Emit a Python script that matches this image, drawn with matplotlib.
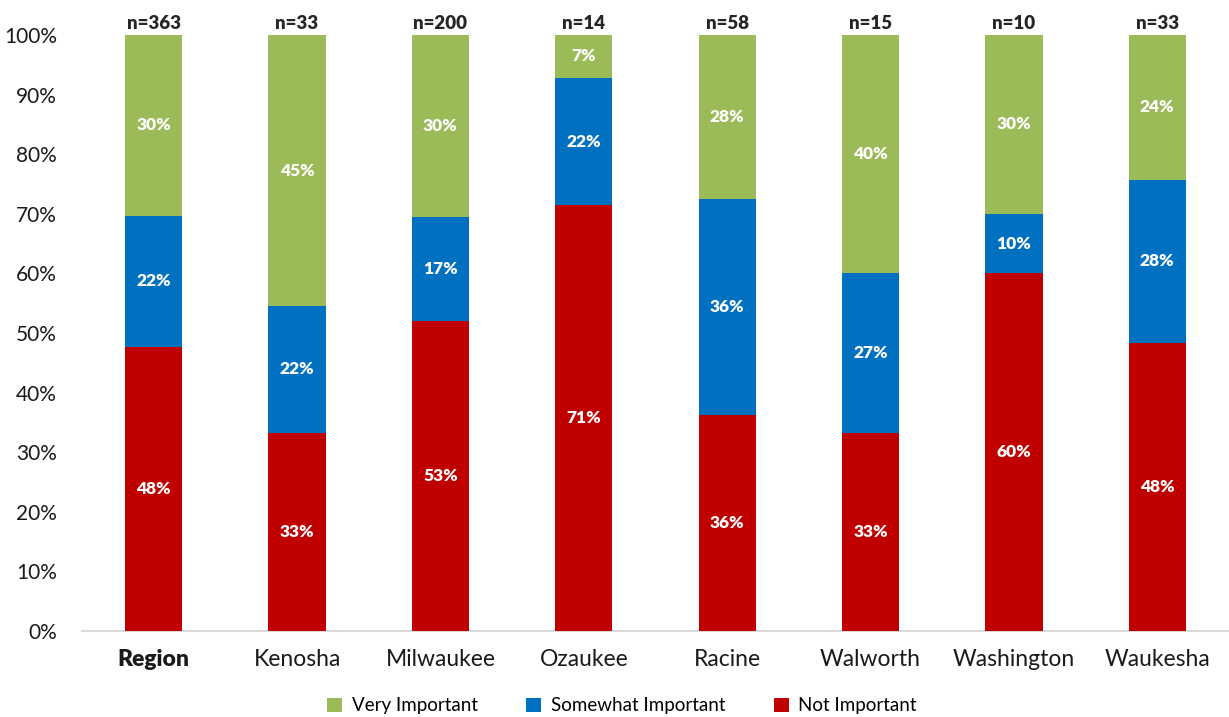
import matplotlib
matplotlib.use("Agg")
import matplotlib.pyplot as plt
import numpy as np

categories = ["Region", "Kenosha", "Milwaukee", "Ozaukee", "Racine", "Walworth", "Washington", "Waukesha"]
n_labels = ["n=363", "n=33", "n=200", "n=14", "n=58", "n=15", "n=10", "n=33"]
not_important = [47.6, 33.3, 52.0, 71.4, 36.2, 33.3, 60.0, 48.3]
somewhat_important = [22.1, 21.2, 17.5, 21.4, 36.2, 26.7, 10.0, 27.4]
very_important = [30.3, 45.5, 30.5, 7.2, 27.6, 40.0, 30.0, 24.3]
not_important_lbl = ["48%", "33%", "53%", "71%", "36%", "33%", "60%", "48%"]
somewhat_important_lbl = ["22%", "22%", "17%", "22%", "36%", "27%", "10%", "28%"]
very_important_lbl = ["30%", "45%", "30%", "7%", "28%", "40%", "30%", "24%"]

colors = {"Very Important": "#9BBB59", "Somewhat Important": "#0070C0", "Not Important": "#C00000"}

plt.rcParams['font.family'] = ['Lato', 'DejaVu Sans']

fig = plt.figure(figsize=(12.29, 7.17), dpi=100)
ax = fig.add_axes([82/1229, 1 - 631/717, (1229-82)/1229, (631-35)/717])

x = np.arange(len(categories))
w = 0.4
ni = np.array(not_important)
si = np.array(somewhat_important)
vi = np.array(very_important)

b1 = ax.bar(x, ni, w, color=colors["Not Important"], label="Not Important", zorder=3)
b2 = ax.bar(x, si, w, bottom=ni, color=colors["Somewhat Important"], label="Somewhat Important", zorder=3)
b3 = ax.bar(x, vi, w, bottom=ni + si, color=colors["Very Important"], label="Very Important", zorder=3)

for vals, bottoms, lbls in [(ni, np.zeros_like(ni), not_important_lbl),
                            (si, ni, somewhat_important_lbl),
                            (vi, ni + si, very_important_lbl)]:
    for xi, v, b, t in zip(x, vals, bottoms, lbls):
        ax.text(xi, b + v / 2, t, ha="center", va="center", color="white",
                fontsize=12.5, fontweight="heavy", zorder=4)

for xi, t in zip(x, n_labels):
    ax.text(xi, 100.5, t, ha="center", va="bottom", fontsize=13.5, fontweight="heavy", color="#262626")

ax.set_xlim(-0.5, 7.5)
ax.set_ylim(0, 100)
ax.set_yticks(np.arange(0, 101, 10))
ax.set_yticklabels([f"{v}%" for v in range(0, 101, 10)], fontsize=15, color="#1a1a1a")
ax.set_xticks(x)
ax.set_xticklabels(categories, fontsize=16.5, color="#1a1a1a")
ax.get_xticklabels()[0].set_fontweight("heavy")
ax.tick_params(axis="both", length=0)
ax.tick_params(axis="x", pad=13)
ax.tick_params(axis="y", pad=18)
for s in ["top", "right", "left"]:
    ax.spines[s].set_visible(False)
ax.spines["bottom"].set_color("#D9D9D9")
ax.spines["bottom"].set_linewidth(1.5)

handles = [b3, b2, b1]
labels = ["Very Important", "Somewhat Important", "Not Important"]
fig.legend(handles, labels, loc="center", bbox_to_anchor=(622/1229, 1 - 706/717), ncol=3,
           frameon=False, fontsize=13.5, handlelength=0.8, handleheight=0.8, columnspacing=2.6,
           handletextpad=0.5)

fig.savefig("out.png", dpi=100)
